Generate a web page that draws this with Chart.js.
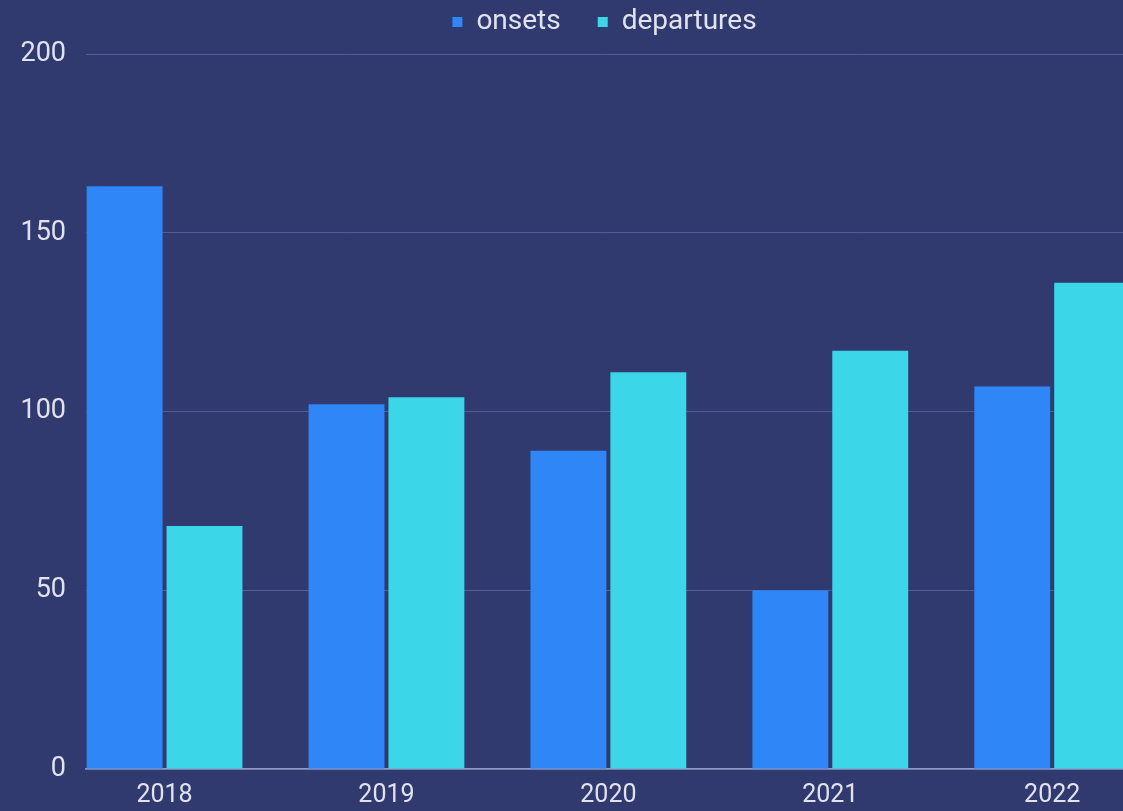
<!DOCTYPE html>
<html>
<head>
<meta charset="utf-8">
<script src="https://cdn.jsdelivr.net/npm/chart.js@4"></script>
<style>
  html, body { margin: 0; padding: 0; background: #303a6e; overflow: hidden; }
  #wrap { width: 1123px; height: 811px; position: relative; }
</style>
</head>
<body>
<div id="wrap"><canvas id="yearChart"></canvas></div>
<script>
// yearly counts
const years = ['2018', '2019', '2020', '2021', '2022'];
const onsets = [163, 102, 89, 50, 107];
const departures = [68, 104, 111, 117, 136];
const yTicks = [0, 50, 100, 150, 200];

const textColor = 'rgba(240, 242, 250, 0.92)';

// wide gaps between legend items, but keep the legend itself short
const legendHeight = {
    id: 'legendHeight',
    beforeInit(chart) {
        const fit = chart.legend.fit;
        chart.legend.fit = function () {
            fit.bind(chart.legend)();
            this.height = 83;
        };
    }
};

const ctx = document.getElementById('yearChart').getContext('2d');
const yearChart = new Chart(ctx, {
    type: 'bar',
    data: {
        labels: years,
        datasets: [{
            label: 'onsets',
            data: onsets,
            backgroundColor: '#2e86f7'
        }, {
            label: 'departures',
            data: departures,
            backgroundColor: '#3bd6e8'
        }]
    },
    options: {
        responsive: true,
        maintainAspectRatio: false,
        animation: false,
        categoryPercentage: 0.72,
        barPercentage: 0.95,
        layout: { padding: { top: -29, left: 0, right: 0, bottom: 0 } },
        plugins: {
            legend: {
                position: 'top',
                fullSize: false,
                labels: {
                    color: textColor,
                    font: { family: 'Roboto', size: 28 },
                    usePointStyle: true,
                    pointStyle: 'rect',
                    boxWidth: 10,
                    boxHeight: 10,
                    padding: 37
                }
            },
            tooltip: { enabled: false }
        },
        scales: {
            x: {
                grid: { display: false, drawTicks: false },
                border: { display: true, color: 'rgba(170, 180, 215, 0.8)', width: 1.5 },
                ticks: { color: textColor, font: { family: 'Roboto', size: 25 }, padding: 12, maxRotation: 0 },
                afterFit: function (scale) { scale.height = 42; },
                // scroll the year band so 2018 sits just inside the left edge
                afterBuildTicks: function (scale) {
                    scale._startValue = -0.354;
                    scale._valueRange = 4.673;
                }
            },
            y: {
                min: 0,
                max: 200,
                afterBuildTicks: function (scale) {
                    scale.ticks = yTicks.map(v => ({ value: v }));
                },
                grid: { color: 'rgba(120, 135, 190, 0.45)', lineWidth: 1, drawTicks: false },
                border: { display: false },
                ticks: { color: textColor, font: { family: 'Roboto', size: 27 }, padding: 20 },
                afterFit: function (scale) { scale.width = 86; }
            }
        }
    },
    plugins: [legendHeight]
});
</script>
</body>
</html>
